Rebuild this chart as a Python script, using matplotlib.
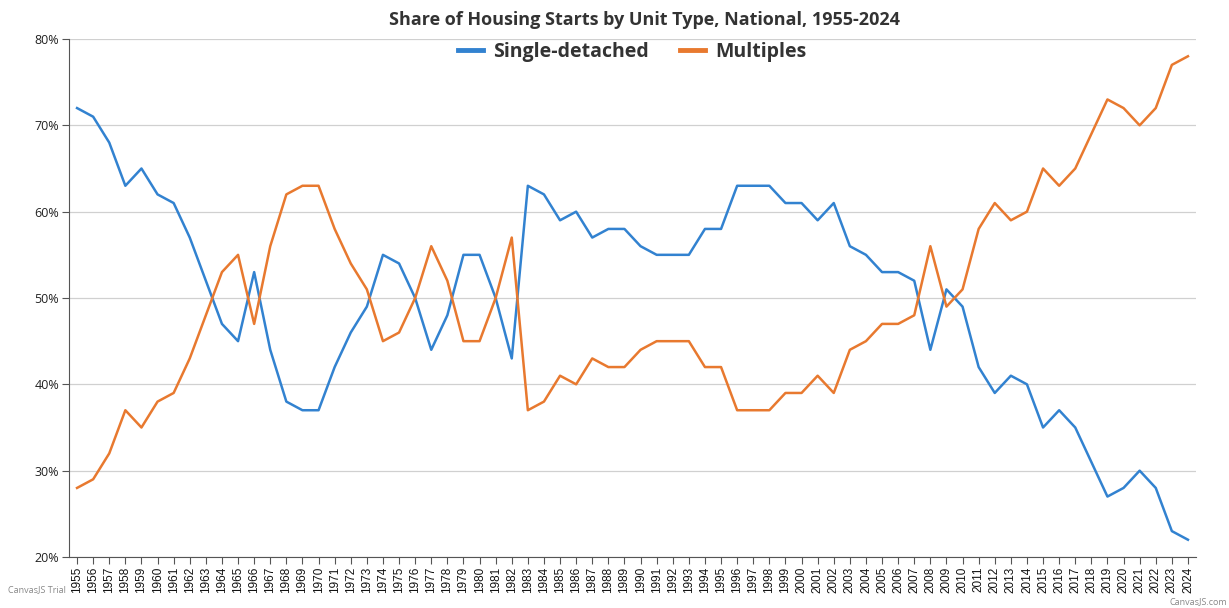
import matplotlib.pyplot as plt
import numpy as np

years = list(range(1955, 2025))
single_detached = [72, 71, 68, 63, 65, 62, 61, 57, 52, 47, 45, 53, 44, 38, 37, 37, 42, 46, 49, 55,
                   54, 50, 44, 48, 55, 55, 50, 43, 63, 62, 59, 60, 57, 58, 58, 56, 55, 55, 55, 58,
                   58, 63, 63, 63, 61, 61, 59, 61, 56, 55, 53, 53, 52, 44, 51, 49, 42, 39, 41, 40,
                   35, 37, 35, 31, 27, 28, 30, 28, 23, 22]
multiples = [28, 29, 32, 37, 35, 38, 39, 43, 48, 53, 55, 47, 56, 62, 63, 63, 58, 54, 51, 45,
             46, 50, 56, 52, 45, 45, 50, 57, 37, 38, 41, 40, 43, 42, 42, 44, 45, 45, 45, 42,
             42, 37, 37, 37, 39, 39, 41, 39, 44, 45, 47, 47, 48, 56, 49, 51, 58, 61, 59, 60,
             65, 63, 65, 69, 73, 72, 70, 72, 77, 78]
y_ticks = [20, 30, 40, 50, 60, 70, 80]

blue = '#3282D0'
orange = '#E8792F'

fig = plt.figure(figsize=(12.29, 6.08), dpi=100)
ax = fig.add_axes([69 / 1229, 1 - 557 / 608, (1196 - 69) / 1229, (557 - 39) / 608])

x = np.arange(len(years))
ax.plot(x, single_detached, color=blue, lw=1.8, label='Single-detached', zorder=3)
ax.plot(x, multiples, color=orange, lw=1.8, label='Multiples', zorder=3)

ax.set_xlim(-0.5, len(years) - 0.5)
ax.set_ylim(20, 80)
ax.set_yticks(y_ticks)
ax.set_yticklabels([f'{v}%' for v in y_ticks], fontsize=9, family='Open Sans', color='#222222')
ax.set_xticks(x)
ax.set_xticklabels([str(y) for y in years], rotation=90, fontsize=8.5, family='Liberation Sans',
                   color='#111111')
ax.tick_params(axis='x', length=5, color='#555555', pad=2)
ax.tick_params(axis='y', length=5, color='#555555', pad=2)

ax.grid(axis='y', color='#d0d0d0', lw=0.9)
ax.set_axisbelow(True)
for side in ['top', 'right']:
    ax.spines[side].set_visible(False)
ax.spines['left'].set_color('#555555')
ax.spines['bottom'].set_color('#555555')

fig.text(644 / 1229, 1 - 20 / 608, 'Share of Housing Starts by Unit Type, National, 1955-2024',
         ha='center', va='center', fontsize=13, fontweight='bold', family='Open Sans',
         color='#333333')

leg = ax.legend(loc='center', bbox_to_anchor=(632 / 1229, 1 - 52 / 608),
                bbox_transform=fig.transFigure, ncol=2, frameon=False,
                prop={'family': 'Open Sans', 'weight': 'bold', 'size': 14},
                handlelength=1.3, handletextpad=0.5, columnspacing=1.6)
for line in leg.get_lines():
    line.set_linewidth(3.5)
for t in leg.get_texts():
    t.set_color('#333333')

# trial watermarks, nudged clear of the year labels
fig.text(8 / 1229, 1 - 590 / 608, 'CanvasJS Trial', fontsize=6.5, color='#888888',
         family='Open Sans', va='center')
fig.text(1227 / 1229, 1 - 602 / 608, 'CanvasJS.com', fontsize=6.5, color='#888888',
         family='Open Sans', va='center', ha='right')

fig.savefig('out.png', dpi=100)
